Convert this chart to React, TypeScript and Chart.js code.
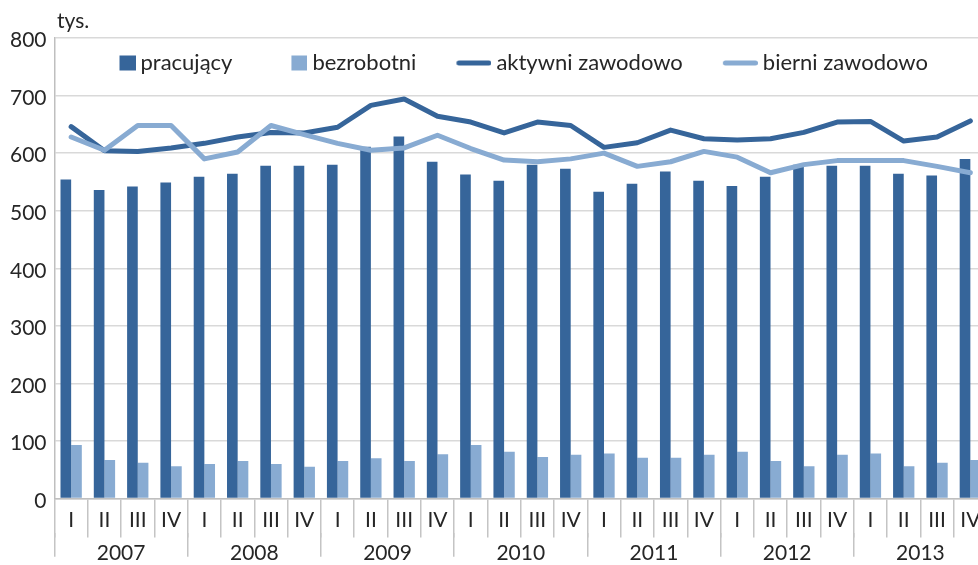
import React, { useEffect, useRef } from 'react';
import { Chart, registerables } from 'chart.js';

Chart.register(...registerables);

const years = ['2007', '2008', '2009', '2010', '2011', '2012', '2013'];
const quarters = ['I', 'II', 'III', 'IV'];
const pracujacy = [554, 536, 542, 549, 559, 564, 578, 578, 580, 611, 629, 585, 563, 552, 580, 573, 533, 547, 568, 552, 543, 559, 580, 578, 578, 564, 561, 590];
const bezrobotni = [93, 67, 62, 56, 60, 65, 60, 55, 65, 70, 65, 77, 93, 81, 72, 76, 78, 71, 71, 76, 81, 65, 56, 76, 78, 56, 62, 67];
const aktywni = [646, 604, 603, 609, 617, 628, 636, 635, 645, 683, 694, 664, 654, 635, 654, 648, 610, 618, 640, 625, 623, 625, 636, 654, 655, 621, 628, 656];
const bierni = [628, 605, 648, 648, 590, 602, 648, 632, 617, 605, 609, 631, 608, 588, 585, 590, 600, 577, 585, 603, 593, 566, 580, 587, 587, 587, 577, 566];
const yTicks = { min: 0, max: 800, step: 100 };

const labels = years.flatMap(() => quarters);

const DARK = '#36659a';
const LIGHT = '#88abd2';
const TEXT = '#262626';
const FONT = "Lato, 'DejaVu Sans', sans-serif";
const FS = 21;
const LFS = 22;
const BOXW = 31;
const LPAD = 38;
const EXT = LFS / 2 - 5;

function legendMark(color: string, kind: 'rect' | 'line'): HTMLCanvasElement {
  const W = BOXW + 2 * EXT;
  const c = document.createElement('canvas');
  c.width = W;
  c.height = 16;
  const g = c.getContext('2d')!;
  g.fillStyle = color;
  g.strokeStyle = color;
  if (kind === 'rect') {
    g.fillRect(W - 16, 0.5, 16, 15);
  } else {
    g.lineWidth = 5;
    g.lineCap = 'round';
    g.beginPath();
    g.moveTo(W - 35 + 2.5, 8);
    g.lineTo(W - 2.5, 8);
    g.stroke();
  }
  return c;
}

export default function App() {
  const ref = useRef<HTMLCanvasElement>(null);

  useEffect(() => {
    if (!ref.current) return;
    const marks = [
      legendMark(DARK, 'rect'),
      legendMark(LIGHT, 'rect'),
      legendMark(DARK, 'line'),
      legendMark(LIGHT, 'line'),
    ];

    const placer = {
      id: 'placer',
      afterLayout(chart: any) {
        const lg = chart.legend;
        if (lg) {
          lg.left = 98.5 - LPAD;
          lg.right = chart.width;
          lg.width = lg.right - lg.left;
          lg.top = 63 - LFS / 2 - LPAD;
          lg.bottom = lg.top + 120;
          lg.height = 120;
        }
        const tb = chart.titleBlock;
        if (tb) {
          tb.left = 57;
          tb.right = chart.width;
          tb.width = tb.right - tb.left;
        }
      },
    };

    const chart = new Chart(ref.current, {
      type: 'bar',
      data: {
        labels,
        datasets: [
          { type: 'bar', label: 'pracujący', data: pracujacy, backgroundColor: DARK, order: 2, categoryPercentage: 0.64, barPercentage: 1 },
          { type: 'bar', label: 'bezrobotni', data: bezrobotni, backgroundColor: LIGHT, order: 2, categoryPercentage: 0.64, barPercentage: 1 },
          { type: 'line', label: 'aktywni zawodowo', data: aktywni, borderColor: DARK, backgroundColor: DARK, borderWidth: 5, pointRadius: 0, tension: 0, fill: false, borderCapStyle: 'round', borderJoinStyle: 'round', order: 1 },
          { type: 'line', label: 'bierni zawodowo', data: bierni, borderColor: LIGHT, backgroundColor: LIGHT, borderWidth: 5, pointRadius: 0, tension: 0, fill: false, borderCapStyle: 'round', borderJoinStyle: 'round', order: 0 },
        ] as any,
      },
      options: {
        responsive: false,
        animation: false,
        events: [],
        layout: { padding: { left: 0, right: 5, top: 0, bottom: 0 } },
        plugins: {
          tooltip: { enabled: false },
          title: {
            display: true,
            text: 'tys.',
            align: 'start',
            color: TEXT,
            font: { family: FONT, size: FS, weight: 'normal' },
            padding: { top: 8.7, bottom: 3.1 },
          },
          legend: {
            display: true,
            position: 'top',
            align: 'start',
            maxHeight: 1,
            labels: {
              usePointStyle: true,
              pointStyleWidth: BOXW,
              boxWidth: BOXW,
              padding: LPAD,
              color: TEXT,
              font: { family: FONT, size: LFS },
              generateLabels: (ch: any) =>
                ch.data.datasets.map((ds: any, i: number) => ({
                  text: ds.label,
                  fillStyle: 'rgba(0,0,0,0)',
                  strokeStyle: 'rgba(0,0,0,0)',
                  lineWidth: 0,
                  hidden: false,
                  datasetIndex: i,
                  pointStyle: marks[i],
                  fontColor: TEXT,
                })),
            },
          },
        },
        scales: {
          x: {
            type: 'category',
            offset: true,
            weight: 0,
            grid: { display: true, offset: true, drawOnChartArea: false, drawTicks: true, tickLength: 39, color: '#c4c4c4', lineWidth: 1.5 },
            border: { display: true, color: '#bfbfbf', width: 1.5 },
            ticks: { autoSkip: false, maxRotation: 0, minRotation: 0, padding: -30, color: TEXT, font: { family: FONT, size: FS } },
            afterFit: (s: any) => { s.height = 34.2; },
          },
          x2: {
            type: 'category',
            labels: years,
            position: 'bottom',
            offset: true,
            weight: 1,
            grid: { display: true, offset: true, drawOnChartArea: false, drawTicks: true, tickLength: 24, color: '#c4c4c4', lineWidth: 1.5 },
            border: { display: false },
            ticks: { autoSkip: false, maxRotation: 0, minRotation: 0, padding: -16, color: TEXT, font: { family: FONT, size: FS } },
            afterFit: (s: any) => { s.height = 33.3; },
          },
          y: {
            min: yTicks.min,
            max: yTicks.max,
            ticks: { stepSize: yTicks.step, padding: 8, labelOffset: 2.5, color: TEXT, font: { family: FONT, size: FS } },
            grid: { color: '#d9d9d9', lineWidth: 1.5, drawTicks: false },
            border: { display: true, color: '#bfbfbf', width: 1.5 },
            afterFit: (s: any) => { s.width = 54.5; },
          },
        },
      } as any,
      plugins: [placer],
    });
    return () => chart.destroy();
  }, []);

  return (
    <div style={{ position: 'fixed', left: 0, top: 0, width: 978, height: 565, overflow: 'hidden', background: '#fff' }}>
      <canvas ref={ref} width={992} height={566} style={{ display: 'block', width: 992, height: 566 }} />
    </div>
  );
}
